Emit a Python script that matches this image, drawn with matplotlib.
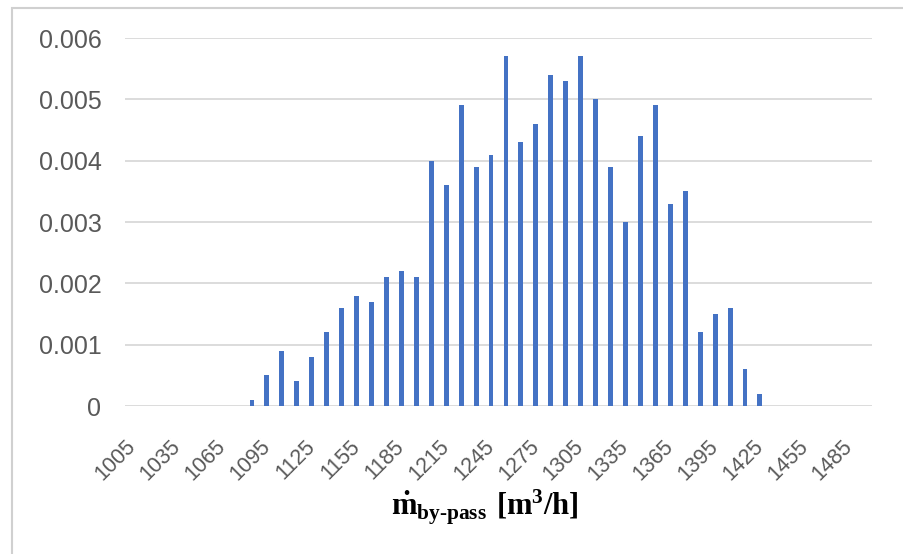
import matplotlib.pyplot as plt
from matplotlib.patches import Rectangle

# bin centres of the by-pass flow histogram [m3/h]
flow_bins = list(range(1005, 1496, 10))
# relative frequency per bin
frequency = [0, 0, 0, 0, 0, 0, 0, 0,
             0.0001, 0.0005, 0.0009, 0.0004, 0.0008, 0.0012, 0.0016, 0.0018,
             0.0017, 0.0021, 0.0022, 0.0021, 0.0040, 0.0036, 0.0049, 0.0039,
             0.0041, 0.0057, 0.0043, 0.0046, 0.0054, 0.0053, 0.0057, 0.0050,
             0.0039, 0.0030, 0.0044, 0.0049, 0.0033, 0.0035, 0.0012, 0.0015,
             0.0016, 0.0006, 0.0002,
             0, 0, 0, 0, 0, 0, 0]
y_ticks = [0, 0.001, 0.002, 0.003, 0.004, 0.005, 0.006]
y_tick_labels = ['0', '0.001', '0.002', '0.003', '0.004', '0.005', '0.006']

plt.rcParams['mathtext.fontset'] = 'custom'
plt.rcParams['mathtext.rm'] = 'Liberation Serif'
plt.rcParams['mathtext.bf'] = 'Liberation Serif:bold'

fig = plt.figure(figsize=(9.04, 5.54), dpi=100)
ax = fig.add_axes([125 / 904, 1 - 406 / 554, 747 / 904, 368 / 554])

x = range(len(flow_bins))
ax.bar(x, frequency, width=0.33, color='#4472C4', zorder=3)

ax.set_xlim(-0.5, len(flow_bins) - 0.5)
ax.set_ylim(0, 0.006)
ax.set_yticks(y_ticks)
ax.set_yticklabels(y_tick_labels, fontsize=18, color='#595959', family='Liberation Sans')
ax.tick_params(axis='y', length=0, pad=17)

shown = list(range(0, len(flow_bins), 3))
ax.set_xticks(shown)
ax.set_xticklabels([str(flow_bins[i]) for i in shown], rotation=45, ha='right',
                   va='center', rotation_mode='anchor', fontsize=15.5,
                   color='#595959', family='Liberation Sans')
ax.tick_params(axis='x', length=0, pad=27)

ax.grid(axis='y', color='#D9D9D9', linewidth=1.3, zorder=0)
for s in ax.spines.values():
    s.set_visible(False)

fig.text(485 / 904, 1 - 507 / 554,
         r'$\mathbf{\dot{m}}_{\mathbf{by}\text{-}\mathbf{pass}}$ $\mathbf{[m^3/h]}$',
         ha='center', va='center', fontsize=22)

# chart border (cut off at the right and bottom of the picture)
fig.patches.append(Rectangle((12 / 904, -0.1), 1.2, 1.1 - 8 / 554, transform=fig.transFigure,
                             fill=False, edgecolor='#D0D0D0', linewidth=1.5))

plt.savefig('out.png')
